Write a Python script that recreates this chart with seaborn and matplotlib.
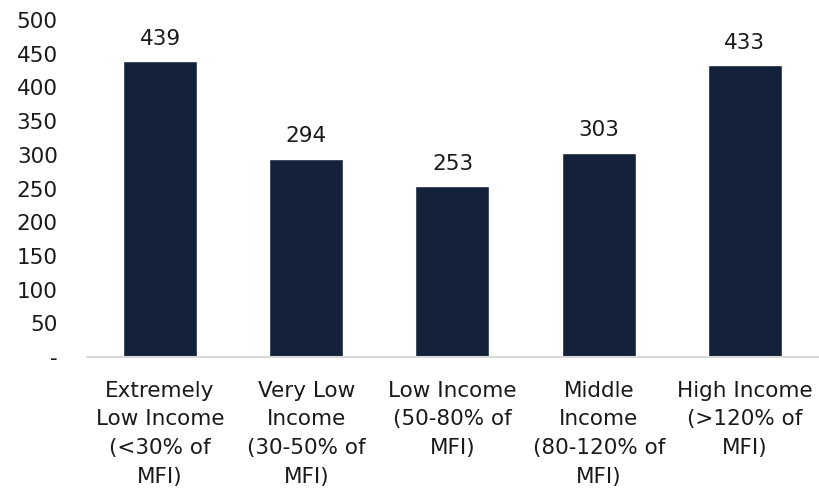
import matplotlib
matplotlib.use("Agg")
import matplotlib.pyplot as plt
import seaborn as sns
import pandas as pd

categories = [
    "Extremely\nLow Income\n(<30% of\nMFI)",
    "Very Low\nIncome\n(30-50% of\nMFI)",
    "Low Income\n(50-80% of\nMFI)",
    "Middle\nIncome\n(80-120% of\nMFI)",
    "High Income\n(>120% of\nMFI)",
]
values = [439, 294, 253, 303, 433]
y_ticks = [0, 50, 100, 150, 200, 250, 300, 350, 400, 450, 500]
y_tick_labels = ["-", "50", "100", "150", "200", "250", "300", "350", "400", "450", "500"]

sns.set_theme(style="white")
plt.rcParams['font.family'] = ['DejaVu Sans']

df = pd.DataFrame({"cat": categories, "val": values})

fig = plt.figure(figsize=(8.2, 4.96), dpi=100)
ax = fig.add_axes([0.106, 0.2802, 0.8916, 0.6795])

sns.barplot(data=df, x="cat", y="val", color="#14213a", width=0.506, ax=ax, saturation=1)

for i, v in enumerate(values):
    ax.annotate(f"{v}", (i, v), xytext=(0, 9), textcoords="offset points",
                ha="center", va="bottom", fontsize=15.5, color="#1a1a1a")

ax.set_ylim(0, 500)
ax.set_xlim(-0.5, len(values) - 0.5)
ax.set_yticks(y_ticks)
ax.set_yticklabels(y_tick_labels)
ax.set_xlabel("")
ax.set_ylabel("")
for s in ["top", "right", "left"]:
    ax.spines[s].set_visible(False)
ax.spines["bottom"].set_color("#d9d9d9")
ax.spines["bottom"].set_linewidth(1.5)
ax.tick_params(axis="y", length=0, pad=21, labelsize=15.5, colors="#1a1a1a")
ax.tick_params(axis="x", length=0, pad=17, labelsize=15.5, colors="#1a1a1a")
for lbl in ax.get_xticklabels():
    lbl.set_linespacing(1.55)
for lbl in ax.get_yticklabels():
    lbl.set_ha("right")

fig.savefig("out.png", dpi=100)
